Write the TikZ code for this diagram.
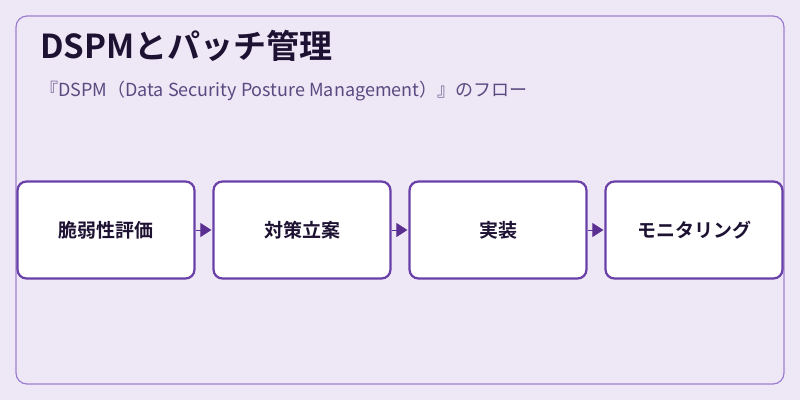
\documentclass[tikz,border=0pt]{standalone}
\usepackage{fontspec}
\setmainfont{Noto Sans CJK JP}
\newfontfamily\cjkb{Noto Sans CJK JP Bold}
\usetikzlibrary{arrows.meta}
\definecolor{bg}{HTML}{EDE7F6}
\definecolor{frame}{HTML}{9C7FCF}
\definecolor{boxline}{HTML}{6A40A8}
\definecolor{ttl}{HTML}{1E1233}
\definecolor{sub}{HTML}{5A4A80}
\definecolor{arr}{HTML}{5B2F91}
\tikzset{
  stepbox/.style={draw=boxline,line width=2.2pt,fill=white,rounded corners=9pt,minimum width=177pt,minimum height=97pt,inner sep=0pt,font=\cjkb\fontsize{19}{22}\selectfont,text=ttl},
  flow/.style={draw=arr,line width=0.8pt,-{Triangle[length=11pt,width=14pt]},shorten >=1pt}
}
\begin{document}
\begin{tikzpicture}[x=1pt,y=-1pt]
\useasboundingbox (0,0) rectangle (800,400);
\fill[bg] (0,0) rectangle (800,400);
\draw[frame,line width=1.2pt,rounded corners=11pt] (16,16) rectangle (784,384);
\node[anchor=base west,inner sep=0pt,text=ttl,font=\cjkb\fontsize{33}{36}\selectfont] (title) at (40,58) {DSPMとパッチ管理};
\node[anchor=base west,inner sep=0pt,text=sub,font=\fontsize{18}{20}\selectfont] (subtitle) at (40,96) {『DSPM（Data Security Posture Management）』のフロー};
\node[stepbox] (s1) at (106,230) {脆弱性評価};
\node[stepbox] (s2) at (302,230) {対策立案};
\node[stepbox] (s3) at (498,230) {実装};
\node[stepbox] (s4) at (694,230) {モニタリング};
\draw[flow] (s1.east) -- (s2.west);
\draw[flow] (s2.east) -- (s3.west);
\draw[flow] (s3.east) -- (s4.west);
\end{tikzpicture}
\end{document}
